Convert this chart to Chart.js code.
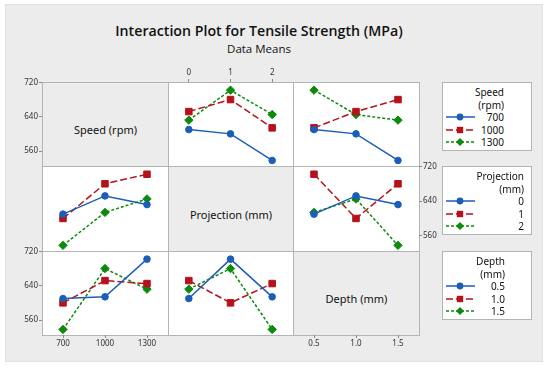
<!DOCTYPE html>
<html>
<head>
<meta charset="utf-8">
<script src="https://cdn.jsdelivr.net/npm/chart.js@4.4.1/dist/chart.umd.min.js"></script>
<style>
body { margin: 0; background: #fff; font-family: "Noto Sans", "Open Sans", sans-serif; }
#frame { position: absolute; left: 5px; top: 4px; width: 538px; height: 358px; background: #ececec; border: 1px solid #dedede; box-sizing: border-box; }
.abs { position: absolute; }
.title { left: 0; width: 518px; text-align: center; color: #111; }
.panel { position: absolute; box-sizing: border-box; border: 1px solid #b4b4b4; }
.diag { display: flex; align-items: center; justify-content: center; padding-top: 10px; box-sizing: border-box; font-size: 11px; color: #111; }
.legend { position: absolute; left: 442px; width: 90px; height: 69px; background: #fff; border: 1px solid #b4b4b4; box-sizing: border-box; font-size: 10px; color: #111; }
.legend div { position: absolute; height: 14px; line-height: 14px; text-align: right; white-space: nowrap; }
.legend svg { position: absolute; left: 2px; }
</style>
</head>
<body>
<div id="frame"></div>
<div class="abs title" style="top:21px;font-size:14.2px;font-weight:600;font-family:'Open Sans',sans-serif;">Interaction Plot for Tensile Strength (MPa)</div>
<div class="abs title" style="top:41px;font-size:11.5px;font-family:'Open Sans',sans-serif;">Data Means</div>

<script>
// factor levels and tick labels
var speedLevels = [700, 1000, 1300];
var projLevels = [0, 1, 2];
var depthLevels = [0.5, 1.0, 1.5];
var speedTicks = ['700', '1000', '1300'];
var projTicks = ['0', '1', '2'];
var depthTicks = ['0.5', '1.0', '1.5'];
var yTicks = [560, 640, 720];

// means, one row per line (trace level), one value per x level
var speedByProj = [[610, 600, 538], [652, 680, 614], [632, 702, 645]];   // lines: speed 700/1000/1300
var speedByDepth = [[610, 600, 538], [614, 652, 680], [702, 645, 632]];
var projBySpeed = [[610, 652, 632], [600, 680, 702], [538, 614, 645]];   // lines: projection 0/1/2
var projByDepth = [[610, 652, 632], [702, 600, 680], [614, 645, 538]];
var depthBySpeed = [[610, 614, 702], [600, 652, 645], [538, 680, 632]];  // lines: depth 0.5/1.0/1.5
var depthByProj = [[610, 702, 614], [652, 600, 645], [632, 680, 538]];

var legendSpeed = ['700', '1000', '1300'];
var legendProj = ['0', '1', '2'];
var legendDepth = ['0.5', '1.0', '1.5'];

// look
var lineColors = ['#1a5eb8', '#b5121b', '#0b8a0b'];
var lineDash = [[], [7, 3], [3, 2]];
var markers = ['circle', 'rect', 'rectRot'];
var markerSize = [3.3, 4.6, 4.2];

var colX = [42, 168, 293];
var colW = [126, 125, 126];
var rowY = [82, 166, 251];
var rowH = [84, 85, 84];
var M = 26;

function drawPanel(r, c, xLevels, xTicks, series, axes, label) {
    var w = colW[c], h = rowH[r];

    var box = document.createElement('div');
    box.className = 'panel' + (label ? ' diag' : '');
    box.style.left = colX[c] + 'px';
    box.style.top = rowY[r] + 'px';
    box.style.width = (w + 1) + 'px';
    box.style.height = (h + 1) + 'px';
    box.style.background = label ? '#ececec' : '#fff';
    if (label) box.textContent = label;
    document.body.appendChild(box);

    var cv = document.createElement('canvas');
    cv.width = w + 2 * M;
    cv.height = h + 2 * M;
    cv.style.position = 'absolute';
    cv.style.left = (colX[c] - M) + 'px';
    cv.style.top = (rowY[r] - M) + 'px';
    document.body.appendChild(cv);

    var datasets = series.map(function (vals, i) {
        return {
            data: vals.map(function (v, k) { return {x: xLevels[k], y: v}; }),
            borderColor: lineColors[i],
            backgroundColor: lineColors[i],
            borderWidth: 1.5,
            borderDash: lineDash[i],
            pointStyle: markers[i],
            pointRadius: markerSize[i],
            pointBorderWidth: 1,
            tension: 0
        };
    });

    var step = xLevels[1] - xLevels[0];
    var tickFont = {family: 'Noto Sans', size: 8};

    new Chart(cv, {
        type: 'line',
        data: {datasets: datasets},
        options: {
            responsive: false,
            animation: false,
            events: [],
            layout: {
                padding: {
                    left: axes.y === 'left' ? 0 : M,
                    right: axes.y === 'right' ? 0 : M,
                    top: axes.x === 'top' ? 0 : M,
                    bottom: axes.x === 'bottom' ? 0 : M
                }
            },
            plugins: {legend: {display: false}, tooltip: {enabled: false}},
            scales: {
                x: {
                    type: 'linear',
                    display: !!axes.x,
                    position: axes.x || 'bottom',
                    min: xLevels[0] - step / 2,
                    max: xLevels[2] + step / 2,
                    afterBuildTicks: function (s) { s.ticks = xLevels.map(function (v) { return {value: v}; }); },
                    afterFit: function (s) { s.height = axes.x ? M : 0; },
                    ticks: {
                        font: tickFont, color: '#333', padding: 1, maxRotation: 0,
                        callback: function (v) { return xTicks[xLevels.indexOf(v)]; }
                    },
                    grid: {drawOnChartArea: false, tickLength: 3, color: '#8a8a8a'},
                    border: {display: false}
                },
                y: {
                    type: 'linear',
                    display: !!axes.y,
                    position: axes.y || 'left',
                    min: 525,
                    max: 721,
                    afterBuildTicks: function (s) { s.ticks = yTicks.map(function (v) { return {value: v}; }); },
                    afterFit: function (s) { s.width = axes.y ? M : 0; },
                    ticks: {font: tickFont, color: '#333', padding: 1},
                    grid: {drawOnChartArea: false, tickLength: 3, color: '#8a8a8a'},
                    border: {display: false}
                }
            }
        }
    });
}

function symbol(i, top) {
    var col = lineColors[i];
    var dash = lineDash[i].length ? ' stroke-dasharray="' + lineDash[i].join(',') + '"' : '';
    var mk;
    if (i === 0) mk = '<circle cx="15" cy="6" r="3.4" fill="' + col + '"/>';
    else if (i === 1) mk = '<rect x="11.8" y="2.8" width="6.4" height="6.4" fill="' + col + '"/>';
    else mk = '<polygon points="15,2 19,6 15,10 11,6" fill="' + col + '"/>';
    return '<svg style="top:' + top + 'px;" width="32" height="12" viewBox="0 0 32 12"><line x1="1" y1="6" x2="30" y2="6" stroke="' + col +
        '" stroke-width="1.5"' + dash + '/>' + mk + '</svg>';
}

function drawLegend(top, titleLines, items, rightEdge) {
    var lg = document.createElement('div');
    lg.className = 'legend';
    lg.style.top = top + 'px';
    var rows = [9, 21.5, 34, 46.5, 59];
    var html = '';
    titleLines.forEach(function (t, k) {
        html += '<div style="top:' + (rows[k] - 7) + 'px;right:' + (88 - rightEdge) + 'px;">' + t + '</div>';
    });
    items.forEach(function (t, k) {
        var y = rows[k + 2];
        html += symbol(k, y - 6);
        html += '<div style="top:' + (y - 7) + 'px;right:' + (88 - rightEdge) + 'px;">' + t + '</div>';
    });
    lg.innerHTML = html;
    document.body.appendChild(lg);
}

// row 1: lines = Speed
drawPanel(0, 0, projLevels, projTicks, [], {y: 'left'}, 'Speed (rpm)');
drawPanel(0, 1, projLevels, projTicks, speedByProj, {x: 'top'});
drawPanel(0, 2, depthLevels, depthTicks, speedByDepth, {});
// row 2: lines = Projection
drawPanel(1, 0, speedLevels, speedTicks, projBySpeed, {});
drawPanel(1, 1, projLevels, projTicks, [], {}, 'Projection (mm)');
drawPanel(1, 2, depthLevels, depthTicks, projByDepth, {y: 'right'});
// row 3: lines = Depth
drawPanel(2, 0, speedLevels, speedTicks, depthBySpeed, {x: 'bottom', y: 'left'});
drawPanel(2, 1, projLevels, projTicks, depthByProj, {});
drawPanel(2, 2, depthLevels, depthTicks, [], {x: 'bottom'}, 'Depth (mm)');

drawLegend(82, ['Speed', '(rpm)'], legendSpeed, 61);
drawLegend(166, ['Projection', '(mm)'], legendProj, 81);
drawLegend(251, ['Depth', '(mm)'], legendDepth, 62);
</script>
</body>
</html>
